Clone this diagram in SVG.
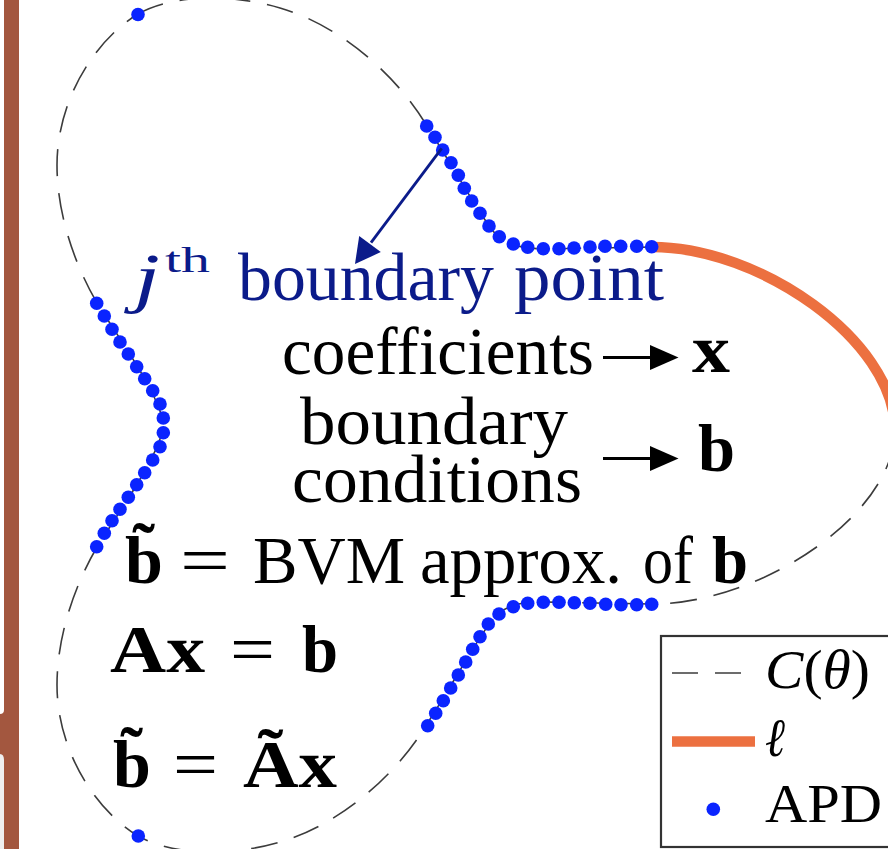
<svg xmlns="http://www.w3.org/2000/svg" width="888" height="849" viewBox="0 0 888 849">
<style>
.t{font-family:"Liberation Serif","DejaVu Serif",serif;font-size:68px;fill:#000}
.nv{fill:#0b1b8a}
.bd{font-weight:bold}
.it{font-style:italic}
.lg{font-size:54px}
.curve{fill:none;stroke:#3c3c3c;stroke-width:1.6;stroke-dasharray:27 17}
.ell{fill:none;stroke:#ec7040;stroke-width:10.5}
.apd{fill:#0a24ff}
</style>
<rect x="0" y="0" width="888" height="849" fill="#fff"/>
<g id="frame">
<rect x="0" y="754" width="4" height="95" fill="#efefef"/>
<rect x="4" y="0" width="15" height="849" fill="#a3573f"/>
<path d="M0,714 Q4,714 4,710 L4,760 Q4,754 0,754 Z" fill="#a3573f"/>
</g>
<g id="curve-C">
<path class="curve" d="M138,14 C170,-4 225,-8 280,8 C330,22 390,65 427,126 C455,170 478,212 493,231 C505,245 520,248 543,249 L652,247 C760,247 893,340 895,428 C896,515 760,604 652,604 L543,602 C520,602 505,605 493,619 C478,638 455,680 427,724 C390,785 330,828 280,842 C225,858 170,854 138,836 C95,810 57,750 57,685 C57,635 75,585 97,547 C120,510 160,455 163.5,425 C160,395 120,340 97,303 C75,265 57,215 57,165 C57,100 95,40 138,14 Z"/>
</g>
<g id="curve-ell">
<path class="ell" d="M652,247 C760,247 893,340 895,428"/>
</g>
<g id="apd-points">
<circle class="apd" cx="138" cy="14.5" r="6.8"/>
<circle class="apd" cx="138.3" cy="836" r="6.8"/>
<circle class="apd" cx="426.7" cy="126" r="6.8"/>
<circle class="apd" cx="435" cy="137.3" r="6.8"/>
<circle class="apd" cx="442.7" cy="150" r="6.8"/>
<circle class="apd" cx="451" cy="162.7" r="6.8"/>
<circle class="apd" cx="458.3" cy="175.3" r="6.8"/>
<circle class="apd" cx="464.3" cy="188.3" r="6.8"/>
<circle class="apd" cx="471.7" cy="201" r="6.8"/>
<circle class="apd" cx="480" cy="213.3" r="6.8"/>
<circle class="apd" cx="489" cy="226" r="6.8"/>
<circle class="apd" cx="499.3" cy="236.7" r="6.8"/>
<circle class="apd" cx="513.3" cy="244" r="6.8"/>
<circle class="apd" cx="527.7" cy="247.3" r="6.8"/>
<circle class="apd" cx="543.3" cy="248.7" r="6.8"/>
<circle class="apd" cx="559" cy="248.7" r="6.8"/>
<circle class="apd" cx="574" cy="248" r="6.8"/>
<circle class="apd" cx="590" cy="247" r="6.8"/>
<circle class="apd" cx="605" cy="246.3" r="6.8"/>
<circle class="apd" cx="620.7" cy="246.3" r="6.8"/>
<circle class="apd" cx="636.7" cy="246.3" r="6.8"/>
<circle class="apd" cx="651.7" cy="246.7" r="6.8"/>
<circle class="apd" cx="427.7" cy="725.7" r="6.8"/>
<circle class="apd" cx="435.7" cy="713.3" r="6.8"/>
<circle class="apd" cx="443.3" cy="700.7" r="6.8"/>
<circle class="apd" cx="450.7" cy="688" r="6.8"/>
<circle class="apd" cx="458.3" cy="675" r="6.8"/>
<circle class="apd" cx="465.7" cy="662" r="6.8"/>
<circle class="apd" cx="472.7" cy="649.3" r="6.8"/>
<circle class="apd" cx="480" cy="636.7" r="6.8"/>
<circle class="apd" cx="488.3" cy="624" r="6.8"/>
<circle class="apd" cx="499" cy="614" r="6.8"/>
<circle class="apd" cx="513.3" cy="606.7" r="6.8"/>
<circle class="apd" cx="527.7" cy="603.3" r="6.8"/>
<circle class="apd" cx="543.3" cy="602.3" r="6.8"/>
<circle class="apd" cx="559" cy="602.3" r="6.8"/>
<circle class="apd" cx="574.3" cy="602.7" r="6.8"/>
<circle class="apd" cx="590" cy="603.3" r="6.8"/>
<circle class="apd" cx="605.7" cy="604.3" r="6.8"/>
<circle class="apd" cx="621" cy="604.7" r="6.8"/>
<circle class="apd" cx="636.7" cy="604.7" r="6.8"/>
<circle class="apd" cx="651.7" cy="604.3" r="6.8"/>
<circle class="apd" cx="96.7" cy="303.3" r="6.8"/>
<circle class="apd" cx="104.3" cy="316" r="6.8"/>
<circle class="apd" cx="112" cy="329.3" r="6.8"/>
<circle class="apd" cx="120" cy="342" r="6.8"/>
<circle class="apd" cx="128.3" cy="354" r="6.8"/>
<circle class="apd" cx="136.7" cy="366.7" r="6.8"/>
<circle class="apd" cx="144.7" cy="378.7" r="6.8"/>
<circle class="apd" cx="152.7" cy="390.7" r="6.8"/>
<circle class="apd" cx="160" cy="404" r="6.8"/>
<circle class="apd" cx="163.3" cy="418" r="6.8"/>
<circle class="apd" cx="163.3" cy="432.7" r="6.8"/>
<circle class="apd" cx="160" cy="446.7" r="6.8"/>
<circle class="apd" cx="152.7" cy="460" r="6.8"/>
<circle class="apd" cx="144.7" cy="472.7" r="6.8"/>
<circle class="apd" cx="136.7" cy="484.7" r="6.8"/>
<circle class="apd" cx="128.3" cy="497.3" r="6.8"/>
<circle class="apd" cx="120" cy="509.3" r="6.8"/>
<circle class="apd" cx="112" cy="520.7" r="6.8"/>
<circle class="apd" cx="104.3" cy="533.3" r="6.8"/>
<circle class="apd" cx="96.7" cy="546.7" r="6.8"/>
</g>
<g id="connectors">
<line x1="441.7" y1="148.3" x2="371" y2="242.7" stroke="#0b1b8a" stroke-width="2.8"/>
<polygon points="355,264 359.2,235.9 380.8,252.1" fill="#0b1b8a"/>
<line x1="603" y1="357.5" x2="652" y2="357.5" stroke="#000" stroke-width="3.2"/>
<polygon points="650,345 678.5,357.5 650,370" fill="#000"/>
<line x1="603" y1="458.5" x2="652" y2="458.5" stroke="#000" stroke-width="3.2"/>
<polygon points="650,446 678.5,458.5 650,471" fill="#000"/>
</g>
<g id="label-jth">
<text class="t nv it" x="134" y="300" textLength="26" lengthAdjust="spacingAndGlyphs">j</text>
<text class="t nv" x="165" y="272" style="font-size:36px" textLength="45" lengthAdjust="spacingAndGlyphs">th</text>
<text class="t nv" x="238" y="300" textLength="256" lengthAdjust="spacingAndGlyphs">boundary</text>
<text class="t nv" x="514" y="300" textLength="150" lengthAdjust="spacingAndGlyphs">point</text>
</g>
<g id="label-coefficients">
<text class="t" x="282" y="374" textLength="312" lengthAdjust="spacingAndGlyphs">coefficients</text>
<text class="t bd" x="692" y="372" textLength="38" lengthAdjust="spacingAndGlyphs">x</text>
</g>
<g id="label-bc">
<text class="t" x="300" y="444" textLength="268" lengthAdjust="spacingAndGlyphs">boundary</text>
<text class="t" x="292" y="502" textLength="290" lengthAdjust="spacingAndGlyphs">conditions</text>
<text class="t bd" x="698" y="471" textLength="37" lengthAdjust="spacingAndGlyphs">b</text>
</g>
<g id="label-bvm">
<text class="t bd" x="125" y="583">b&#x303;</text>
<text class="t" x="180" y="583" textLength="50" lengthAdjust="spacingAndGlyphs">=</text>
<text class="t" x="253" y="583" textLength="152" lengthAdjust="spacingAndGlyphs">BVM</text>
<text class="t" x="420" y="583" textLength="202" lengthAdjust="spacingAndGlyphs">approx.</text>
<text class="t" x="643" y="583" textLength="50" lengthAdjust="spacingAndGlyphs">of</text>
<text class="t bd" x="712" y="583" textLength="36" lengthAdjust="spacingAndGlyphs">b</text>
</g>
<g id="label-axb">
<text class="t bd" x="110" y="672" textLength="95" lengthAdjust="spacingAndGlyphs">Ax</text>
<text class="t" x="230" y="672" textLength="45" lengthAdjust="spacingAndGlyphs">=</text>
<text class="t bd" x="302" y="672" textLength="36" lengthAdjust="spacingAndGlyphs">b</text>
</g>
<g id="label-btilde">
<text class="t bd" x="113" y="787">b&#x303;</text>
<text class="t" x="173" y="787" textLength="45" lengthAdjust="spacingAndGlyphs">=</text>
<text class="t bd" x="243" y="787" textLength="94" lengthAdjust="spacingAndGlyphs">Ãx</text>
</g>
<g id="legend">
<rect x="661" y="636" width="300" height="211" fill="#fff" stroke="#333" stroke-width="2.2"/>
<line x1="672" y1="673" x2="742" y2="673" stroke="#3c3c3c" stroke-width="1.6" stroke-dasharray="26 17"/>
<text class="t lg" x="765" y="688" textLength="105" lengthAdjust="spacingAndGlyphs"><tspan class="it">C</tspan>(<tspan class="it">θ</tspan>)</text>
<line x1="672" y1="741.5" x2="755" y2="741.5" stroke="#ec7040" stroke-width="10.5"/>
<text class="t lg it" x="765" y="756" textLength="20" lengthAdjust="spacingAndGlyphs">ℓ</text>
<circle class="apd" cx="713.3" cy="809.3" r="6.8"/>
<text class="t lg" x="765" y="822" textLength="117" lengthAdjust="spacingAndGlyphs">APD</text>
</g>
</svg>
